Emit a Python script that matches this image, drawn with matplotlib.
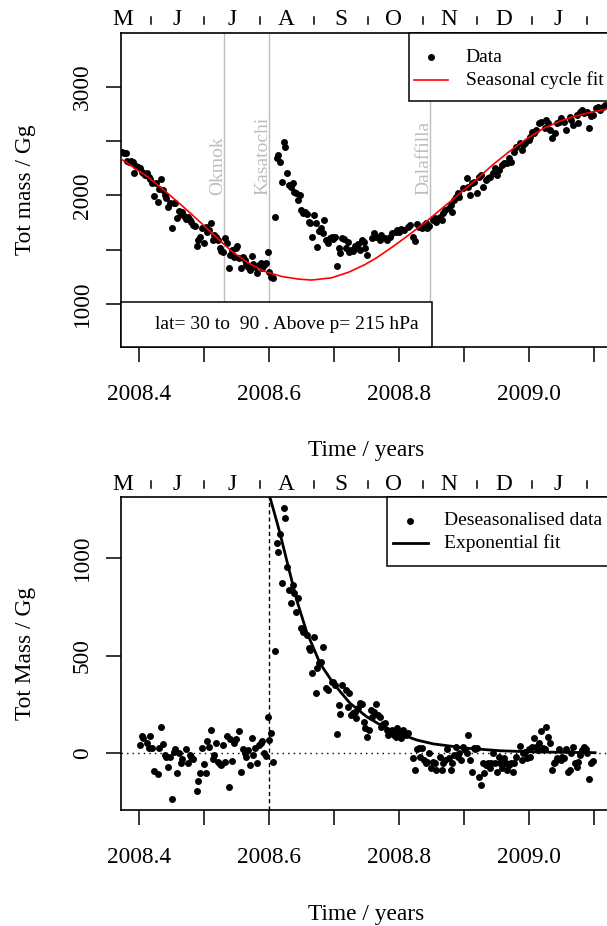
import matplotlib
matplotlib.use("Agg")
import numpy as np
import matplotlib.pyplot as plt
from matplotlib.lines import Line2D
from matplotlib.patches import Rectangle

plt.rcParams['font.family'] = ['Liberation Serif', 'DejaVu Serif']

W, H = 607, 926

# first daily sample (mid May 2008) in decimal years, one day = 1/366 yr
t0 = 2008.3745

# ---- top panel: total mass, daily
top_day = list(range(137)) + [
    137, 138, 141, 142, 143, 145, 146, 148, 149, 151, 152, 154, 155, 156, 157, 159,
    161, 162, 164, 165, 166, 167, 169, 170, 171, 172, 173, 175, 176, 177, 179, 180,
    181, 182, 184, 185, 186, 187, 188, 189, 190, 192, 194, 195, 196, 197, 198, 200,
    201, 202, 203, 205, 206, 207, 209, 210, 211, 212, 214, 215, 217, 218, 219, 221,
    222, 224, 225, 226, 227, 229, 230, 231, 232, 233, 235, 236, 238, 239, 240, 241,
    242, 244, 245, 246, 247, 249, 250, 252, 253, 254, 256, 257, 258, 259, 260, 262,
    263, 264, 265, 267, 268, 269, 271, 272]
top_mass = [
    2403, 2394, 2388, 2320, 2310, 2320, 2311, 2204, 2271, 2265,
    2250, 2219, 2204, 2188, 2204, 2173, 2148, 2117, 1994, 2111,
    1942, 2056, 2148, 2050, 2004, 1973, 1896, 1927, 1696, 1927,
    1933, 1788, 1859, 1828, 1850, 1810, 1779, 1798, 1773, 1758,
    1727, 1718, 1533, 1589, 1619, 1696, 1564, 1705, 1665, 1681,
    1742, 1589, 1635, 1613, 1589, 1512, 1490, 1481, 1604, 1558,
    1327, 1450, 1496, 1435, 1512, 1533, 1419, 1327, 1435, 1404,
    1367, 1343, 1312, 1441, 1367, 1343, 1287, 1358, 1373, 1327,
    1358, 1373, 1481, 1296, 1250, 1235, 1798, 2342, 2373, 2311,
    2127, 2496, 2450, 2204, 2096, 2081, 2111, 2034, 2019, 1958,
    2004, 1865, 1841, 1850, 1828, 1758, 1742, 1619, 1819, 1748,
    1527, 1675, 1696, 1656, 1773, 1589, 1558, 1604, 1619, 1595,
    1613, 1349, 1512, 1465, 1604, 1595, 1512, 1573, 1481, 1496,
    1490, 1533, 1512, 1552, 1496, 1589, 1573,
    1512, 1450, 1604, 1650, 1620, 1589, 1635, 1604, 1589, 1620, 1650, 1666, 1681, 1666, 1687, 1681,
    1712, 1727, 1620, 1583, 1736, 1712, 1696, 1727, 1742, 1696, 1718, 1773, 1789, 1758, 1804, 1773,
    1835, 1865, 1881, 1912, 1850, 1958, 1988, 2019, 1988, 2065, 2158, 2081, 2004, 2111, 2127, 2019,
    2173, 2188, 2081, 2142, 2158, 2173, 2204, 2250, 2188, 2235, 2281, 2302, 2296, 2342, 2311, 2404,
    2450, 2480, 2419, 2465, 2480, 2511, 2542, 2588, 2573, 2603, 2665, 2680, 2619, 2696, 2665, 2603,
    2527, 2573, 2665, 2680, 2711, 2680, 2603, 2726, 2696, 2650, 2742, 2665, 2773, 2788, 2757, 2773,
    2619, 2733, 2742, 2803, 2819, 2788, 2819, 2834]

# red seasonal cycle fit
fit_year = [2008.3714, 2008.3930, 2008.4149, 2008.4406, 2008.4663, 2008.4918, 2008.5175,
            2008.5432, 2008.5688, 2008.5945, 2008.6202, 2008.6457, 2008.6663, 2008.6971,
            2008.7226, 2008.7483, 2008.7663, 2008.7918, 2008.8175, 2008.8432, 2008.8688,
            2008.8945, 2008.9202, 2008.9457, 2008.9714, 2008.9971, 2009.0226, 2009.0483,
            2009.0740, 2009.0995, 2009.1202, 2009.1300]
fit_mass = [2342, 2255, 2167, 2040, 1908, 1770, 1625, 1485, 1375, 1298, 1252, 1228, 1219,
            1240, 1290, 1362, 1425, 1530, 1643, 1762, 1890, 2019, 2150, 2286, 2410, 2522,
            2617, 2685, 2735, 2772, 2796, 2806]

volcano_names = ["Okmok", "Kasatochi", "Dalaffilla"]
volcano_year = [2008.531, 2008.601, 2008.848]

# ---- bottom panel: deseasonalised data
desea_day = [
    10, 11, 12, 14, 15, 16, 17, 18, 20, 21, 22, 23, 24, 25, 26, 27, 28, 29, 30, 31,
    32, 33, 34, 36, 37, 38, 39, 40, 42, 43, 44, 45, 46, 47, 48, 49, 50, 51, 52, 53,
    54, 55, 56, 57, 58, 59, 60, 61, 62, 63, 64, 66, 67, 68, 69, 70, 71, 72, 73, 74,
    75, 76, 77, 78, 79, 80, 81, 82, 83, 84, 85,
    86, 87, 88, 89, 90, 91, 92, 93, 94, 95, 96, 97, 98, 99, 101, 102, 104, 105, 106, 107,
    108, 109, 110, 111, 112, 113, 115, 116, 118, 119, 120, 121, 122, 123, 124, 126, 127, 128, 129, 130,
    131, 132, 133, 134, 135, 136, 137, 138, 139, 140, 141, 142, 143, 144, 145, 146, 147, 148, 149, 150,
    151, 152, 153, 154, 155, 156, 157, 158, 159, 160, 161,
    164, 165, 166, 167, 168, 169, 170, 171, 172, 173, 174, 175, 176, 177, 179, 180, 181, 182, 183, 184,
    185, 186, 187, 188, 189, 190, 191, 192, 193, 194, 195, 196, 197, 198, 199, 200, 201, 202, 203, 204,
    205, 206, 207, 208, 209, 210, 211, 212, 213, 214, 215, 216, 217, 218, 219, 220, 221, 222, 224, 225,
    226, 227, 228, 229, 230, 231, 232, 233, 234, 235, 236, 237, 238, 239, 240, 241, 242, 243, 244, 245,
    246, 247, 248, 249, 250, 251, 252, 253, 254, 255, 256, 257, 258, 259, 260, 261, 262, 263, 264, 265]
desea_mass = [
    42, 88, 77, 51, 25, 88, 25, -89, -106, 25, 133, 48, -9, -17, -68, -17, -235, 8, 20, -99,
    0, -48, -31, 20, -48, -9, -17, -31, -193, -142, -99, 25, -55, -99, 65, 31, 119, -31, -9, 51,
    -43, -55, -62, 42, -43, 88, -171, 71, -38, 51, 71, 115, -94, 20, 0, -17, 17, -60, 77, -9,
    25, -48, 42, 51, 65, 0, -14, 187, 68, 105, -43,
    525, 1073, 1031, 1121, 872, 1252, 1201, 954, 835, 770, 860, 818, 724, 792, 639, 622, 605, 537, 528, 409,
    596, 307, 435, 460, 469, 545, 332, 324, 366, 366, 349, 99, 247, 201, 349, 324, 239, 307, 196, 205,
    213, 179, 230, 256, 252, 162, 128, 85, 119, 222, 187, 213, 252, 196, 187, 136, 150, 153, 119, 94,
    102, 119, 94, 85, 128, 111, 77, 119, 111, 94, 102,
    -26, -85, 20, 26, -17, 26, -34, -51, -43, 0, -77, -43, -51, -85, -17, -85, -51, -34, 20, -26,
    -85, -51, -8, 34, -17, 0, -34, 34, 17, 0, 94, -34, -94, 26, 20, 26, -119, -162, -51, -102,
    -60, -48, -77, -51, 0, -51, -94, -17, -51, -77, -26, -51, -85, -60, -48, -94, -51, -17, 38, -34,
    0, 9, -26, 20, -17, 34, 77, 31, 17, 51, 116, 26, 20, 133, 85, 51, -85, -51, -43, -26,
    20, -34, -17, -26, 20, -94, -85, 0, 34, -51, -68, -43, -8, 17, 34, 20, 0, -133, -51, -38]

# exponential decay fit after Kasatochi
exp_year = [2008.6011, 2008.6098, 2008.6175, 2008.6303, 2008.6432, 2008.6586, 2008.6791,
            2008.6995, 2008.7252, 2008.7509, 2008.7765, 2008.8022, 2008.8278, 2008.8534,
            2008.9048, 2008.9560, 2009.0072, 2009.1022]
exp_mass = [1320, 1218, 1125, 954, 784, 620, 460, 358, 256, 187, 136, 99, 68, 48, 26, 13, 7, 3]

# ---- axes annotations
xtick_vals = [2008.4, 2008.5, 2008.6, 2008.7, 2008.8, 2008.9, 2009.0, 2009.1]
xtick_text = ["2008.4", "", "2008.6", "", "2008.8", "", "2009.0", ""]
top_yticks = [1000, 1500, 2000, 2500, 3000]
top_ytext = ["1000", "", "2000", "", "3000"]
bot_yticks = [0, 500, 1000]
bot_ytext = ["0", "500", "1000"]
month_edges = [2008.4186, 2008.5006, 2008.5868, 2008.6698, 2008.7525, 2008.8371,
               2008.9202, 2009.0048, 2009.0898]
month_mid = [2008.3755, 2008.4586, 2008.5432, 2008.6268, 2008.7109, 2008.7929,
             2008.8775, 2008.9611, 2009.0457]
month_labels = ["M", "J", "J", "A", "S", "O", "N", "D", "J"]

BIG = 16.8
SMALL = 14
GREY = "#bebebe"
XL = (2008.3729, 2009.1268)
MS = 5.0


def fx(px):
    return px / W


def fy(py):
    return 1 - py / H


def frame(top, bottom):
    return [fx(121), fy(bottom), (611 - 121) / W, (bottom - top) / H]


fig = plt.figure(figsize=(W / 100, H / 100), dpi=100)
ax1 = fig.add_axes(frame(33, 347))
ax2 = fig.add_axes(frame(497.3, 810))


def style(ax, top, bottom, yt, ytl, ylim, ylabel):
    ax.set_xlim(*XL)
    ax.set_ylim(*ylim)
    ax.set_xticks(xtick_vals)
    ax.set_xticklabels(xtick_text)
    ax.set_yticks(yt)
    ax.set_yticklabels(ytl, rotation=90, va="center")
    ax.tick_params(axis="both", direction="out", length=10.8, width=1.1, labelsize=BIG)
    ax.tick_params(axis="x", pad=15.5)
    ax.tick_params(axis="y", pad=9.4)
    for s in ax.spines.values():
        s.set_linewidth(1.2)
    h = bottom - top
    # month letters above the frame
    for e in month_edges:
        ax.plot([e, e], [1 + 9 / h, 1 + 16 / h], color="k", lw=1.1,
                transform=ax.get_xaxis_transform(), clip_on=False)
    for m, lab in zip(month_mid, month_labels):
        ax.text(m, 1 + 13.3 / h, lab, ha="center", va="center", fontsize=BIG,
                transform=ax.get_xaxis_transform(), clip_on=False)
    fig.text(fx(26), fy((top + bottom) / 2), ylabel, rotation=90,
             ha="center", va="center", fontsize=BIG)


style(ax1, 33, 347, top_yticks, top_ytext, (601.5, 3498), "Tot mass / Gg")
style(ax2, 497.3, 810, bot_yticks, bot_ytext, (-290, 1309), "Tot Mass / Gg")

fig.text(fx(366), fy(450.5), "Time / years", ha="center", va="center", fontsize=BIG)
fig.text(fx(366), fy(914.5), "Time / years", ha="center", va="center", fontsize=BIG)

# ---- top panel marks
top_t = t0 + np.array(top_day) / 366.0
for name, yr in zip(volcano_names, volcano_year):
    ax1.axvline(yr, color=GREY, lw=1.0, zorder=1)
    ax1.text(yr - 0.0025, 2000, name, rotation=90, rotation_mode="anchor",
             ha="left", va="baseline", color=GREY, fontsize=SMALL, zorder=1)
ax1.plot(top_t, top_mass, "o", color="k", ms=MS, mew=0, zorder=3)
ax1.plot(fit_year, fit_mass, color="red", lw=1.2, zorder=4)

# ---- bottom panel marks
desea_t = t0 + np.array(desea_day) / 366.0
ax2.axhline(0, color="k", lw=1.0, dashes=(1, 3), zorder=1)
ax2.axvline(volcano_year[1], color="k", lw=1.0, dashes=(3, 2.2), zorder=1)
ax2.plot(desea_t, desea_mass, "o", color="k", ms=MS, mew=0, zorder=3)
ax2.plot(exp_year, exp_mass, color="k", lw=2.0, zorder=4)


# ---- legends, drawn in pixel positions
def rect(x0, y0, x1, y1):
    fig.add_artist(Rectangle((fx(x0), fy(y1)), (x1 - x0) / W, (y1 - y0) / H,
                             transform=fig.transFigure, facecolor="white",
                             edgecolor="k", lw=1.1, zorder=5))


def dot(x, y):
    fig.add_artist(Line2D([fx(x)], [fy(y)], marker="o", ms=MS, color="k", mew=0,
                          transform=fig.transFigure, zorder=6))


def seg(x0, x1, y, color, lw):
    fig.add_artist(Line2D([fx(x0), fx(x1)], [fy(y), fy(y)], color=color, lw=lw,
                          transform=fig.transFigure, zorder=6))


def label(x, y, s):
    fig.text(fx(x), fy(y), s, ha="left", va="center", fontsize=SMALL, zorder=7)


rect(409, 33, 720, 101)
dot(431, 57)
label(465.7, 57, "Data")
seg(414, 448, 80, "red", 1.2)
label(465.7, 80, "Seasonal cycle fit")

rect(121, 302, 431.7, 347)
label(155, 324.5, "lat= 30 to  90 . Above p= 215 hPa")

rect(387.3, 497.3, 720, 566)
dot(410, 520.7)
label(444.3, 520.7, "Deseasonalised data")
seg(392.7, 428, 543, "k", 2.0)
label(444.3, 543, "Exponential fit")

fig.savefig("out.png", dpi=100)
